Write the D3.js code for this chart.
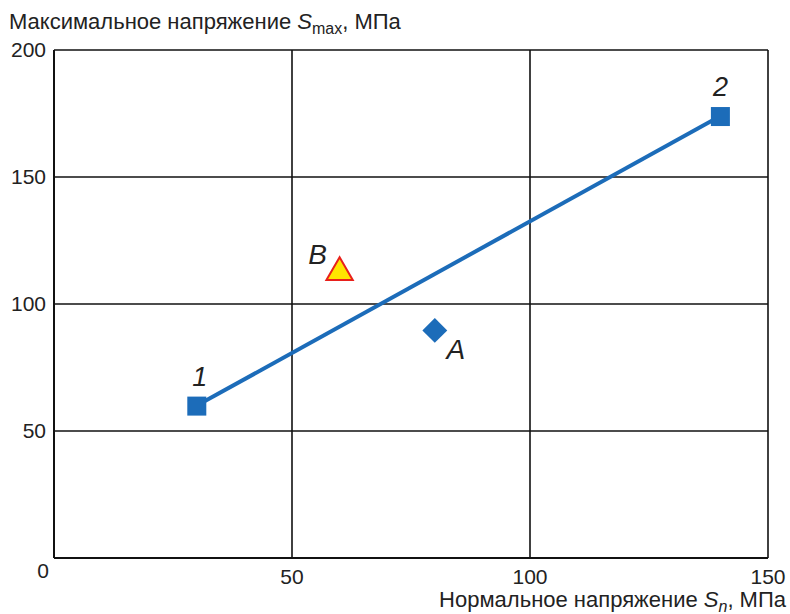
<!DOCTYPE html>
<html><head><meta charset="utf-8">
<script src="https://cdn.jsdelivr.net/npm/d3@7"></script>
<style>body{margin:0;background:#fff;} text{font-family:"Liberation Sans",Arial,sans-serif;}</style>
</head><body>
<svg id="c" width="790" height="614"></svg>
<script>
const xTicks = [0, 50, 100, 150];
const yTicks = [0, 50, 100, 150, 200];
const lineLabels = ["1", "2"];
const lineX = [30, 140];
const lineY = [60, 174];
const pointA = {label: "A", x: 80, y: 90};
const pointB = {label: "B", x: 60, y: 113};

const svg = d3.select("#c");
const x = d3.scaleLinear().domain([0, 150]).range([54, 768]);
const y = d3.scaleLinear().domain([0, 200]).range([558, 50]);
const blue = "#1c6cb9";

// grid
svg.append("g").selectAll("line").data(yTicks.filter(d=>d>0)).join("line")
  .attr("x1", x(0)).attr("x2", x(150)).attr("y1", d=>y(d)).attr("y2", d=>y(d))
  .attr("stroke", "#111").attr("stroke-width", 1.6);
svg.append("g").selectAll("line").data(xTicks.filter(d=>d>0)).join("line")
  .attr("y1", y(0)).attr("y2", y(200)).attr("x1", d=>x(d)).attr("x2", d=>x(d))
  .attr("stroke", "#111").attr("stroke-width", 1.6);
// axes lines
svg.append("line").attr("x1", x(0)).attr("x2", x(0)).attr("y1", y(0)).attr("y2", y(200)).attr("stroke","#111").attr("stroke-width",2);
svg.append("line").attr("x1", x(0)).attr("x2", x(150)).attr("y1", y(0)).attr("y2", y(0)).attr("stroke","#111").attr("stroke-width",2);

// tick labels
svg.append("g").selectAll("text").data(yTicks.filter(d=>d>0)).join("text")
  .attr("x", 46).attr("y", d=>y(d)+7).attr("text-anchor","end")
  .attr("font-size", 21).attr("fill","#222").text(d=>d);
svg.append("text").attr("x", 43).attr("y", 578).attr("text-anchor","middle")
  .attr("font-size", 21).attr("fill","#222").text(xTicks[0]);
svg.append("g").selectAll("text").data(xTicks.filter(d=>d>0)).join("text")
  .attr("x", d=>x(d)).attr("y", 584).attr("text-anchor","middle")
  .attr("font-size", 21).attr("fill","#222").text(d=>d);

// axis titles
const t1 = svg.append("text").attr("x", 9).attr("y", 29).attr("font-size", 22).attr("fill","#222");
t1.append("tspan").text("Максимальное напряжение ");
t1.append("tspan").attr("font-style","italic").text("S");
t1.append("tspan").attr("font-size", 16).attr("dy", 5).text("max");
t1.append("tspan").attr("dy", -5).text(", МПа");

const t2 = svg.append("text").attr("x", 786).attr("y", 607).attr("text-anchor","end").attr("font-size", 22).attr("fill","#222");
t2.append("tspan").text("Нормальное напряжение ");
t2.append("tspan").attr("font-style","italic").text("S");
t2.append("tspan").attr("font-style","italic").attr("font-size", 16).attr("dy", 5).text("n");
t2.append("tspan").attr("dy", -5).text(", МПа");

// line
const pts = lineX.map((d,i)=>({x:d, y:lineY[i], label: lineLabels[i]}));
svg.append("path").datum(pts)
  .attr("d", d3.line().x(d=>x(d.x)).y(d=>y(d.y)))
  .attr("stroke", blue).attr("stroke-width", 4).attr("fill","none");
svg.append("g").selectAll("rect").data(pts).join("rect")
  .attr("x", d=>x(d.x)-9.5).attr("y", d=>y(d.y)-9).attr("width", 19).attr("height", 19)
  .attr("fill", blue);
svg.append("g").selectAll("text").data(pts).join("text")
  .attr("x", d=>x(d.x)+ (d.label==="1"?3:0)).attr("y", d=>y(d.y)-20)
  .attr("text-anchor","middle").attr("font-size", 27).attr("font-style","italic").attr("fill","#222")
  .text(d=>d.label);

// point A (diamond)
svg.append("path").attr("d", d3.symbol().type(d3.symbolSquare).size(310)())
  .attr("transform", `translate(${x(pointA.x)},${y(pointA.y)+1}) rotate(45)`)
  .attr("fill", blue);
svg.append("text").attr("x", x(pointA.x)+21).attr("y", y(pointA.y)+30)
  .attr("text-anchor","middle").attr("font-size", 28).attr("font-style","italic").attr("fill","#222").text(pointA.label);

// point B (triangle)
svg.append("path").attr("d", d3.symbol().type(d3.symbolTriangle).size(300)())
  .attr("transform", `translate(${x(pointB.x)},${y(pointB.y)+1.5})`)
  .attr("fill", "#ffe500").attr("stroke", "#e8201c").attr("stroke-width", 2);
svg.append("text").attr("x", x(pointB.x)-22).attr("y", y(pointB.y)-7)
  .attr("text-anchor","middle").attr("font-size", 28).attr("font-style","italic").attr("fill","#222").text(pointB.label);
</script>
</body></html>
